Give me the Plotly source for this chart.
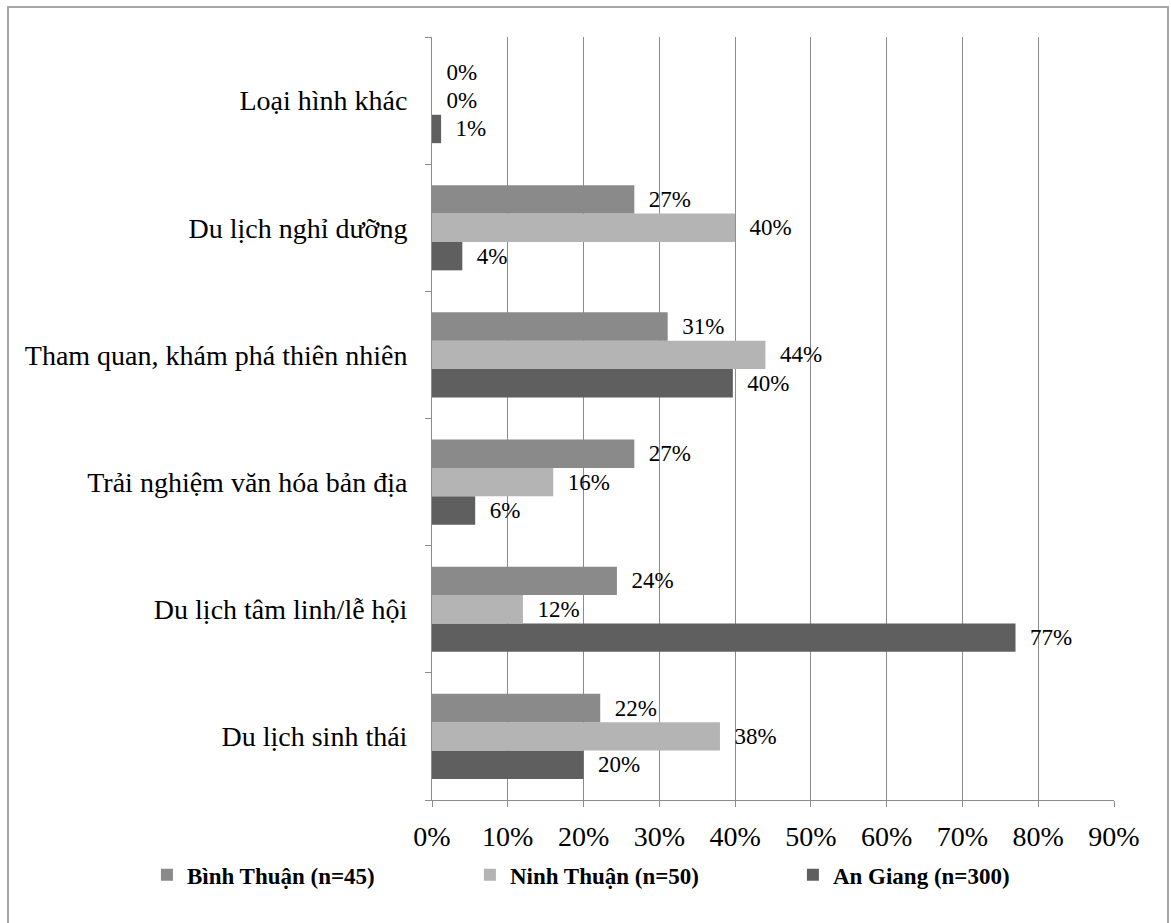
import plotly.graph_objects as go

categories = ["Du lịch sinh thái", "Du lịch tâm linh/lễ hội", "Trải nghiệm văn hóa bản địa",
              "Tham quan, khám phá thiên nhiên", "Du lịch nghỉ dưỡng", "Loại hình khác"]
binh_thuan = [0.222, 0.244, 0.267, 0.311, 0.267, 0.0]
ninh_thuan = [0.38, 0.12, 0.16, 0.44, 0.40, 0.0]
an_giang = [0.20, 0.77, 0.057, 0.397, 0.04, 0.012]
series_names = ["Bình Thuận (n=45)", "Ninh Thuận (n=50)", "An Giang (n=300)"]
colors = ["#8a8a8a", "#b4b4b4", "#5f5f5f"]
x_ticks = [0, 0.1, 0.2, 0.3, 0.4, 0.5, 0.6, 0.7, 0.8, 0.9]

FONT = "Liberation Serif, Times New Roman, serif"

fig = go.Figure()
for name, vals, col in [(series_names[2], an_giang, colors[2]),
                        (series_names[1], ninh_thuan, colors[1]),
                        (series_names[0], binh_thuan, colors[0])]:
    fig.add_trace(go.Bar(
        y=categories, x=vals, name=name, orientation="h",
        marker=dict(color=col, line=dict(width=0)),
        texttemplate="\u00a0\u00a0%{x:.0%}", textposition="outside",
        textfont=dict(family=FONT, size=23, color="black"),
        cliponaxis=False,
    ))

fig.update_layout(
    width=1171, height=923,
    barmode="group", bargap=0.33, bargroupgap=0,
    plot_bgcolor="white", paper_bgcolor="white",
    margin=dict(l=432, r=57, t=37, b=123),
    font=dict(family=FONT, color="black"),
    showlegend=True,
    legend=dict(orientation="h", traceorder="reversed", x=-0.418, xanchor="left",
                y=-0.098, yanchor="middle",
                font=dict(family=FONT, size=23, color="black", weight="bold"),
                entrywidth=278, entrywidthmode="pixels",
                bgcolor="rgba(0,0,0,0)"),
    uniformtext=dict(mode=False),
)
fig.update_xaxes(
    range=[0, 0.9], tickvals=x_ticks, tickformat=".0%",
    showgrid=True, gridcolor="#8c8c8c", gridwidth=1,
    showline=True, linecolor="#8c8c8c", linewidth=1,
    ticks="outside", ticklen=6, tickcolor="#8c8c8c",
    tickfont=dict(family=FONT, size=28, color="black"),
    ticklabelstandoff=5,
    zeroline=False, fixedrange=True,
)
fig.update_yaxes(
    showline=True, linecolor="#8c8c8c", linewidth=1,
    ticks="outside", ticklen=6, tickcolor="#8c8c8c", tickson="boundaries",
    tickfont=dict(family=FONT, size=28, color="black"),
    ticklabelstandoff=18, showgrid=False,
)
# outer chart border
fig.add_shape(type="rect", xref="paper", yref="paper",
              x0=(8 - 432) / 682, x1=(1168 - 432) / 682,
              y0=(800 - 935) / 763, y1=(800 - 7) / 763,
              line=dict(color="#a6a6a6", width=2), fillcolor="rgba(0,0,0,0)", layer="below")

fig.write_html("out.html")
